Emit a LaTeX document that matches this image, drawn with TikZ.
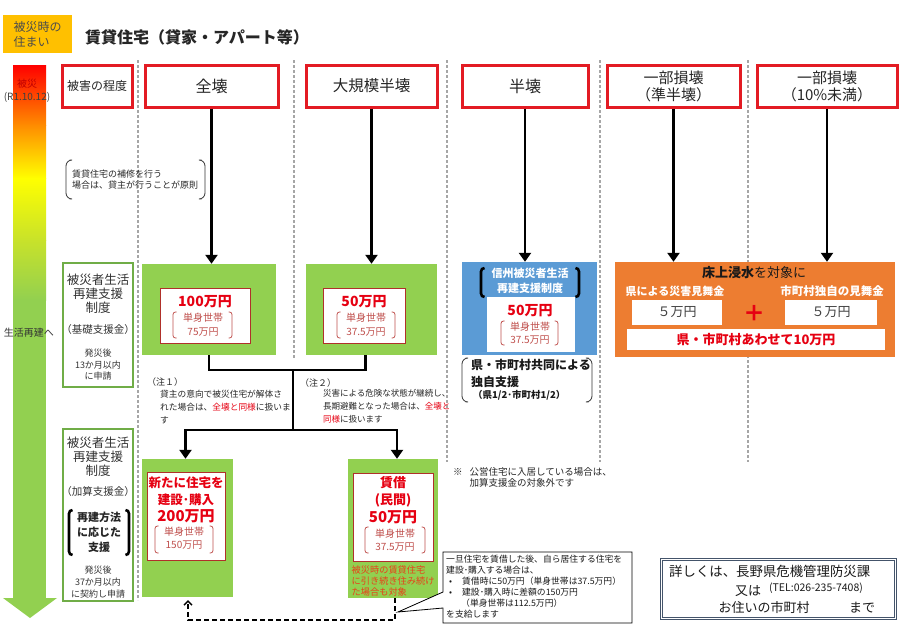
\documentclass[tikz,border=0pt]{standalone}
\usepackage{fontspec}
\setmainfont{Noto Sans CJK JP}
\usetikzlibrary{arrows.meta}
\definecolor{hdrred}{HTML}{E31B23}
\definecolor{grn}{HTML}{92D050}
\definecolor{grnb}{HTML}{70AD47}
\definecolor{txtred}{HTML}{E60012}
\definecolor{brred}{HTML}{C0504D}
\definecolor{innerb}{HTML}{B0302A}
\definecolor{blu}{HTML}{5B9BD5}
\definecolor{org}{HTML}{ED7D31}
\definecolor{ylw}{HTML}{FFC000}
\definecolor{dotg}{HTML}{A6A6A6}
\definecolor{navy}{HTML}{44546A}
\definecolor{ored}{HTML}{E8401A}
\definecolor{barorange}{HTML}{FF8C00}
\definecolor{barlime}{HTML}{C8E22A}
\definecolor{darkred}{HTML}{C00000}
\newcommand\mybrk[5]{%
  \draw[#5] (#1+3.5,#2) -- (#1,#2) -- (#1,#4) -- (#1+3.5,#4);
  \draw[#5] (#3-3.5,#2) -- (#3,#2) -- (#3,#4) -- (#3-3.5,#4);}
\begin{document}
\begin{tikzpicture}[x=1pt,y=-1pt,
  fs/.style 2 args={inner sep=0,align=center,font=\fontsize{#1}{#2}\selectfont},
  bfs/.style 2 args={inner sep=0,align=center,font=\fontsize{#1}{#2}\selectfont\bfseries},
  hdr/.style={draw=hdrred,line width=3,fill=white,inner sep=0,align=center,text=black!85},
  gbox/.style={fill=grn,inner sep=0},
  wbox/.style={fill=white,draw=innerb,line width=0.8,inner sep=0},
  lbox/.style={draw=grnb,line width=2,fill=white,inner sep=0},
  dline/.style={dotg,line width=2.6,dash pattern=on 2.6pt off 2.4pt},
  bigarrow/.style={line width=2.6,-{Triangle[length=9,width=12]}},
  tree/.style={line width=2.4},
  redbr/.style={brred,line width=0.8,rounded corners=2.5},
  blkbr/.style={black,line width=2.6,rounded corners=3.5},
  thinbr/.style={black!80,line width=0.8,rounded corners=6}
]
\useasboundingbox (0,0) rectangle (900,624);
\fill[white] (0,0) rectangle (900,624);

% dotted separators
\draw[dline] (138,60) -- (138,600);
\draw[dline] (294,60) -- (294,358);
\draw[dline] (447,60) -- (447,462);
\draw[dline] (600,60) -- (600,462);
\draw[dline] (748,60) -- (748,462);

% heading
\node[fill=ylw,minimum width=69,minimum height=38,fs={12}{15},align=left,text=black!70] (kind) at (37.5,34) {被災時の\\住まい};
\node[bfs={16}{16},anchor=west,text=black!85] (title) at (85,37) {賃貸住宅（貸家・アパート等）};

% gradient bar
\shade[top color=red,bottom color=barorange] (13,65) rectangle (46,125.5);
\shade[top color=barorange,bottom color=yellow] (13,125) rectangle (46,178.5);
\shade[top color=yellow,bottom color=barlime] (13,178) rectangle (46,240.5);
\shade[top color=barlime,bottom color=grn] (13,240) rectangle (46,300.5);
\fill[grn] (13,300) rectangle (46,599);
\fill[grn] (3,598) -- (57,598) -- (30,618) -- cycle;
\node[fs={10}{10},text=darkred] (hisai) at (27,84) {被災};
\node[fs={10}{10},text=black!75] (date) at (27,97) {(R1.10.12)};
\node[fs={10}{10},text=black!80] (saiken) at (29,333) {生活再建へ};

% header boxes
\node[hdr,minimum width=70,minimum height=42,font=\fontsize{12}{12}\selectfont] (higai) at (97,86) {被害の程度};
\node[hdr,minimum width=133,minimum height=42,font=\fontsize{16}{16}\selectfont] (zenkai) at (211.5,86) {全壊};
\node[hdr,minimum width=131,minimum height=42,font=\fontsize{15.5}{16}\selectfont] (daikibo) at (371.5,86) {大規模半壊};
\node[hdr,minimum width=126,minimum height=42,font=\fontsize{16}{16}\selectfont] (hankai) at (525,86) {半壊};
\node[hdr,minimum width=133,minimum height=42,font=\fontsize{15}{17}\selectfont] (jun) at (673.5,86) {一部損壊\\（準半壊）};
\node[hdr,minimum width=140,minimum height=42,font=\fontsize{15}{17}\selectfont] (ichibu) at (827,86) {一部損壊\\（10\%未満）};

% repair note
\node[fs={9}{11},align=left,anchor=west,text=black!85] (repair) at (72,179.5) {賃貸住宅の補修を行う\\場合は、貸主が行うことが原則};
\mybrk{66}{160}{205}{199}{thinbr}

% left column boxes
\node[lbox,minimum width=70,minimum height=124] (base) at (98,325) {};
\node[fs={12.5}{14},text=black!80] (b1) at (98,294) {被災者生活\\再建支援\\制度};
\node[fs={10.5}{10.5},text=black!80] (b2) at (98,330) {（基礎支援金）};
\node[fs={9}{11.5},text=black!80] (b3) at (98,365) {発災後\\13か月以内\\に申請};

\node[lbox,minimum width=70,minimum height=172] (add) at (98,515) {};
\node[fs={12.5}{14},text=black!80] (a1) at (98,457) {被災者生活\\再建支援\\制度};
\node[fs={10.5}{10.5},text=black!80] (a2) at (98,492) {（加算支援金）};
\node[bfs={11}{15},text=black!85] (a3) at (99,532) {再建方法\\に応じた\\支援};
\mybrk{69}{510}{129}{555}{blkbr}
\node[fs={9}{12},text=black!80] (a4) at (98,582) {発災後\\37か月以内\\に契約し申請};

% green boxes (basic)
\node[gbox,minimum width=134,minimum height=91] (g100) at (209,309.5) {};
\node[wbox,minimum width=90,minimum height=55] (w100) at (205,315.5) {};
\node[bfs={14}{14},text=txtred] (t100) at (205,302) {100万円};
\node[fs={10}{14},text=brred] (s100) at (203,325) {単身世帯\\75万円};
\mybrk{173}{312}{232}{338}{redbr}

\node[gbox,minimum width=131,minimum height=91] (g50) at (371.5,309.5) {};
\node[wbox,minimum width=82,minimum height=55] (w50) at (364,315.5) {};
\node[bfs={14}{14},text=txtred] (t50) at (364,302) {50万円};
\node[fs={10}{14},text=brred] (s50) at (366,325) {単身世帯\\37.5万円};
\mybrk{337}{312}{395}{338}{redbr}

% blue box
\node[fill=blu,minimum width=135,minimum height=93,inner sep=0] (blue) at (529.5,308.5) {};
\node[fill=white,minimum width=88,minimum height=55,inner sep=0] (wblue) at (531,324.5) {};
\node[bfs={11}{15},text=white] (shinshu) at (530,280.5) {信州被災者生活\\再建支援制度};
\mybrk{481}{268}{579}{297}{blkbr}
\node[bfs={14}{14},text=txtred] (tb50) at (530,311) {50万円};
\node[fs={10}{13},text=brred] (sb50) at (530,333.5) {単身世帯\\37.5万円};
\mybrk{501}{321}{558}{345}{redbr}

% joint support
\node[bfs={12}{17},align=left,anchor=north west,text=black!90] (joint) at (471,358.5) {県・市町村共同による\\独自支援};
\node[bfs={9.5}{10},anchor=west,text=black!90] (ratio) at (473,395) {（県1/2･市町村1/2）};
\mybrk{462}{358}{592}{402}{thinbr}

% orange box
\node[fill=org,minimum width=280,minimum height=95,inner sep=0] (orange) at (755,309.5) {};
\node[fs={13}{13},text=black!90] (yuka) at (754,273) {\textbf{床上浸水}を対象に};
\node[bfs={11}{11},text=white] (ken) at (675,291) {県による災害見舞金};
\node[bfs={11.5}{11.5},text=white] (city) at (832,291) {市町村独自の見舞金};
\node[fill=white,minimum width=90,minimum height=25,inner sep=0,fs={13}{13},text=black!75] (k5) at (677,312.5) {５万円};
\node[fill=white,minimum width=92,minimum height=25,inner sep=0,fs={13}{13},text=black!75] (c5) at (831,312.5) {５万円};
\node[bfs={22}{22},text=txtred] (plus) at (754,313) {＋};
\node[fill=white,minimum width=258,minimum height=21,inner sep=0,bfs={13}{13},text=txtred] (total) at (756,339.5) {県・市町村あわせて10万円};

% arrows from headers
\draw[bigarrow] (zenkai.south) -- (zenkai.south |- g100.north);
\draw[bigarrow] (daikibo.south) -- (daikibo.south |- g50.north);
\draw[bigarrow] (hankai.south) -- (hankai.south |- blue.north);
\draw[bigarrow] (jun.south) -- (jun.south |- orange.north);
\draw[bigarrow] (ichibu.south) -- (ichibu.south |- orange.north);

% bottom green boxes
\node[gbox,minimum width=91,minimum height=138] (newb) at (187.5,528) {};
\node[wbox,minimum width=78,minimum height=88] (wnew) at (186,516) {};
\node[bfs={12.5}{16.5},text=txtred] (tnew) at (186,491.5) {新たに住宅を\\建設･購入};
\node[bfs={15}{15},text=txtred] (t200) at (186,516) {200万円};
\node[fs={10}{13},text=brred] (s200) at (184,538.5) {単身世帯\\150万円};
\mybrk{155}{526}{213}{553}{redbr}

\node[gbox,minimum width=90,minimum height=139] (chin) at (393,528.5) {};
\node[wbox,minimum width=80,minimum height=88] (wchin) at (393,517) {};
\node[bfs={13}{17},text=txtred] (tchin) at (393,491.5) {賃借\\(民間)};
\node[bfs={15}{15},text=txtred] (t50b) at (393,517) {50万円};
\node[fs={10}{13},text=brred] (s50b) at (395,540) {単身世帯\\37.5万円};
\mybrk{365}{527}{425}{553}{redbr}
\node[fs={9.2}{11},align=left,anchor=west,text=ored] (cont) at (351.5,581) {被災時の賃貸住宅\\に引き続き住み続け\\た場合も対象};

% tree connectors
\coordinate (j1) at (293,370);
\coordinate (j2) at (293,430);
\draw[tree] (g100.south) |- (j1) -| ([xshift=-6]g50.south);
\draw[tree] (j1) -- (j2);
\draw[bigarrow] (j2) -| ([xshift=-2]newb.north);
\draw[bigarrow] (j2) -| ([xshift=4]chin.north);

% notes
\node[fs={9}{9},anchor=west,text=black!85] (n1) at (147,382) {（注１）};
\node[fs={8.7}{13},align=left,anchor=north west,text=black!85] (n1t) at (160,389.5) {貸主の意向で被災住宅が解体さ\\れた場合は、\textcolor{txtred}{全壊と同様}に扱いま\\す};
\node[fs={9}{9},anchor=west,text=black!85] (n2) at (300,383) {（注２）};
\node[fs={8.5}{13},align=left,anchor=north west,text=black!85] (n2t) at (323,389.5) {災害による危険な状態が継続し、\\長期避難となった場合は、\textcolor{txtred}{全壊と}\\\textcolor{txtred}{同様}に扱います};
\node[fs={9.5}{11},align=left,anchor=north west,text=black!85] (public) at (453,467) {※\hspace{7pt}公営住宅に入居している場合は、\\\hspace{16.5pt}加算支援金の対象外です};

% dashed return path
\coordinate (d1) at (395,620);
\coordinate (d2) at (188,620);
\draw[line width=1.4,dash pattern=on 5pt off 3pt,-{Straight Barb[length=4,width=8]}] (chin.south -| d1) -- (d1) -- (d2) -- ([yshift=-3]newb.south -| d2);

% callout
\draw[line width=0.8,fill=white] (443,552) -- (632,552) -- (632,623) -- (443,623) -- (443,608) -- (398,612) -- (443,592) -- cycle;
\node[fs={8.8}{10.9},align=left,anchor=north west,text=black!90] (callout) at (446,555) {一旦住宅を賃借した後、自ら居住する住宅を\\建設･購入する場合は、\\\hspace*{3pt}•\hspace{10pt}賃借時に50万円（単身世帯は37.5万円）\\\hspace*{3pt}•\hspace{10pt}建設･購入時に差額の150万円\\\hspace*{15pt}（単身世帯は112.5万円）\\を支給します};

% contact box
\node[draw=navy,double,double distance=1.2,line width=0.9,minimum width=234,minimum height=59,inner sep=0] (contact) at (778.5,589) {};
\node[fs={13.4}{13.4},anchor=west,text=black!90] (c1) at (669,571) {詳しくは、長野県危機管理防災課};
\node[fs={13}{13},text=black!90] (c2) at (748,591) {又は};
\node[fs={10.5}{10.5},text=black!90] (c3) at (816,588) {(TEL:026-235-7408)};
\node[fs={13}{13},text=black!90] (c4) at (764,608) {お住いの市町村};
\node[fs={13}{13},text=black!90] (c5) at (862,608) {まで};
\end{tikzpicture}
\end{document}
